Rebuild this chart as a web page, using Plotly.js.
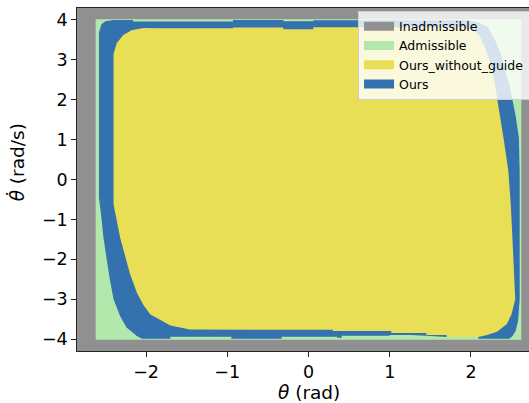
<!DOCTYPE html>
<html>
<head>
<meta charset="utf-8">
<script src="https://cdn.plot.ly/plotly-3.0.1.min.js"></script>
<style>
  html, body { margin: 0; padding: 0; overflow: hidden; background: #fff; }
  #chart { width: 541px; height: 403px; }
</style>
</head>
<body>
<div id="chart"></div>
<script>
// ---- Region boundaries (theta [rad], theta_dot [rad/s]) ----
const inadmissibleX = [-2.85, 2.85, 2.85, -2.85, -2.85];
const inadmissibleY = [-4.3, -4.3, 4.3, 4.3, -4.3];

const admissibleX = [-2.62, 2.62, 2.62, -2.62, -2.62];
const admissibleY = [-4.02, -4.02, 4.02, 4.02, -4.02];

// "Ours" region boundary
const oursX = [-2.58, -2.55, -2.50, -2.40, -2.16, -2.16, -0.93, -0.93, -0.31, -0.31, 0.06, 0.06,
  1.95, 2.08, 2.21, 2.30, 2.38, 2.44, 2.48, 2.55, 2.59, 2.60, 2.60, 2.58, 2.55, 2.51, 2.47,
  2.09, 2.09, 1.70, 1.58, 1.45, 1.25, 1.00, 1.00, 0.41, 0.41, 0.35, 0.35, -0.33, -0.33,
  -0.95, -0.95, -1.70, -1.70, -2.05, -2.11, -2.24, -2.32, -2.40, -2.45, -2.49, -2.525, -2.55,
  -2.58, -2.58];
const oursY = [3.68, 3.89, 3.97, 4.00, 4.00, 3.96, 3.96, 4.00, 4.00, 3.97, 3.97, 3.99,
  3.99, 3.95, 3.82, 3.48, 3.07, 2.65, 2.31, 1.60, 1.05, 0.20, -3.00, -3.54, -3.80, -3.93, -3.99,
  -3.99, -3.95, -3.95, -3.93, -3.92, -3.90, -3.90, -3.92, -3.92, -3.97, -3.97, -3.94, -3.94, -3.99,
  -3.99, -3.94, -3.94, -3.99, -3.99, -3.93, -3.71, -3.42, -3.00, -2.46, -1.95, -1.45, -0.95,
  -0.45, 3.68];

// "Ours_without_guide" region boundary
const noGuideX = [-2.40, -2.36, -2.28, -2.18, -2.03, -1.85, -0.93, -0.93, -0.31, -0.31, 0.06, 0.06,
  1.90, 2.01, 2.09, 2.17, 2.23, 2.27, 2.30, 2.36, 2.40, 2.46, 2.49, 2.51, 2.53, 2.545, 2.50,
  2.44, 2.32, 2.20, 2.09, 1.70, 1.70, 1.45, 1.45, 1.02, 1.02, 0.30, 0.30, -1.46, -1.70, -1.85,
  -1.95, -2.03, -2.11, -2.20, -2.32, -2.40, -2.40];
const noGuideY = [3.15, 3.42, 3.62, 3.74, 3.80, 3.79, 3.79, 3.81, 3.81, 3.77, 3.77, 3.82,
  3.82, 3.77, 3.65, 3.32, 2.98, 2.65, 2.31, 1.60, 1.05, 0.22, -0.62, -1.45, -2.29, -3.00, -3.38,
  -3.63, -3.82, -3.90, -3.95, -3.95, -3.90, -3.90, -3.85, -3.85, -3.80, -3.80, -3.77, -3.76, -3.66, -3.50,
  -3.38, -3.15, -2.85, -2.35, -1.45, -0.62, 3.15];

const seriesNames = ["Inadmissible", "Admissible", "Ours_without_guide", "Ours"];
const xTicks = [-2, -1, 0, 1, 2];
const yTicks = [-4, -3, -2, -1, 0, 1, 2, 3, 4];

const colors = {
  Inadmissible: "#909090",
  Admissible: "#b3e8ac",
  Ours_without_guide: "#e8df57",
  Ours: "#3372ae"
};

function region(x, y, name) {
  return {
    type: "scatter", mode: "lines", x: x, y: y, fill: "toself",
    fillcolor: colors[name], line: { width: 0, color: colors[name] },
    hoverinfo: "skip", showlegend: false, name: name
  };
}
function legendEntry(name, rank) {
  return {
    type: "scatter", mode: "lines", x: [null], y: [null], name: name,
    line: { color: colors[name], width: 9 }, legendrank: rank, showlegend: true
  };
}

const traces = [
  region(inadmissibleX, inadmissibleY, "Inadmissible"),
  region(admissibleX, admissibleY, "Admissible"),
  region(oursX, oursY, "Ours"),
  region(noGuideX, noGuideY, "Ours_without_guide"),
  legendEntry(seriesNames[0], 1),
  legendEntry(seriesNames[1], 2),
  legendEntry(seriesNames[2], 3),
  legendEntry(seriesNames[3], 4)
];

const fmt = v => v < 0 ? "\u2212" + Math.abs(v) : String(v);

const axisCommon = {
  showgrid: false, zeroline: false, showline: true, mirror: true,
  linecolor: "#262626", linewidth: 1.3,
  ticks: "outside", ticklen: 4.5, tickwidth: 1, tickcolor: "#262626",
  tickfont: { family: "DejaVu Sans", size: 17.5, color: "#000" }
};

const layout = {
  width: 541, height: 403,
  margin: { l: 77, r: 1, t: 8, b: 52 },
  paper_bgcolor: "#ffffff",
  plot_bgcolor: colors.Inadmissible,
  font: { family: "DejaVu Sans", color: "#000" },
  showlegend: true,
  xaxis: Object.assign({}, axisCommon, { range: [-2.85, 2.85], tickvals: xTicks, ticktext: xTicks.map(fmt) }),
  yaxis: Object.assign({}, axisCommon, { range: [-4.3, 4.3], tickvals: yTicks, ticktext: yTicks.map(fmt) }),
  legend: {
    x: 0.607, y: 0.992, xanchor: "left", yanchor: "top",
    bgcolor: "rgba(255,255,255,0.8)", bordercolor: "#cccccc", borderwidth: 1,
    font: { family: "DejaVu Sans", size: 12.5, color: "#000" },
    traceorder: "normal", tracegroupgap: 0
  },
  annotations: [
    { text: "<i>θ</i> (rad)", xref: "paper", yref: "paper", x: 0.5, y: -0.121,
      xanchor: "center", yanchor: "middle", showarrow: false,
      font: { family: "DejaVu Sans", size: 18.5, color: "#000" } },
    { text: "<i>θ̇</i> (rad/s)", xref: "paper", yref: "paper", x: -0.131, y: 0.551,
      xanchor: "center", yanchor: "middle", showarrow: false, textangle: -90,
      font: { family: "DejaVu Sans", size: 18.5, color: "#000" } }
  ]
};

Plotly.newPlot("chart", traces, layout, { displayModeBar: false, staticPlot: true });
</script>
</body>
</html>
